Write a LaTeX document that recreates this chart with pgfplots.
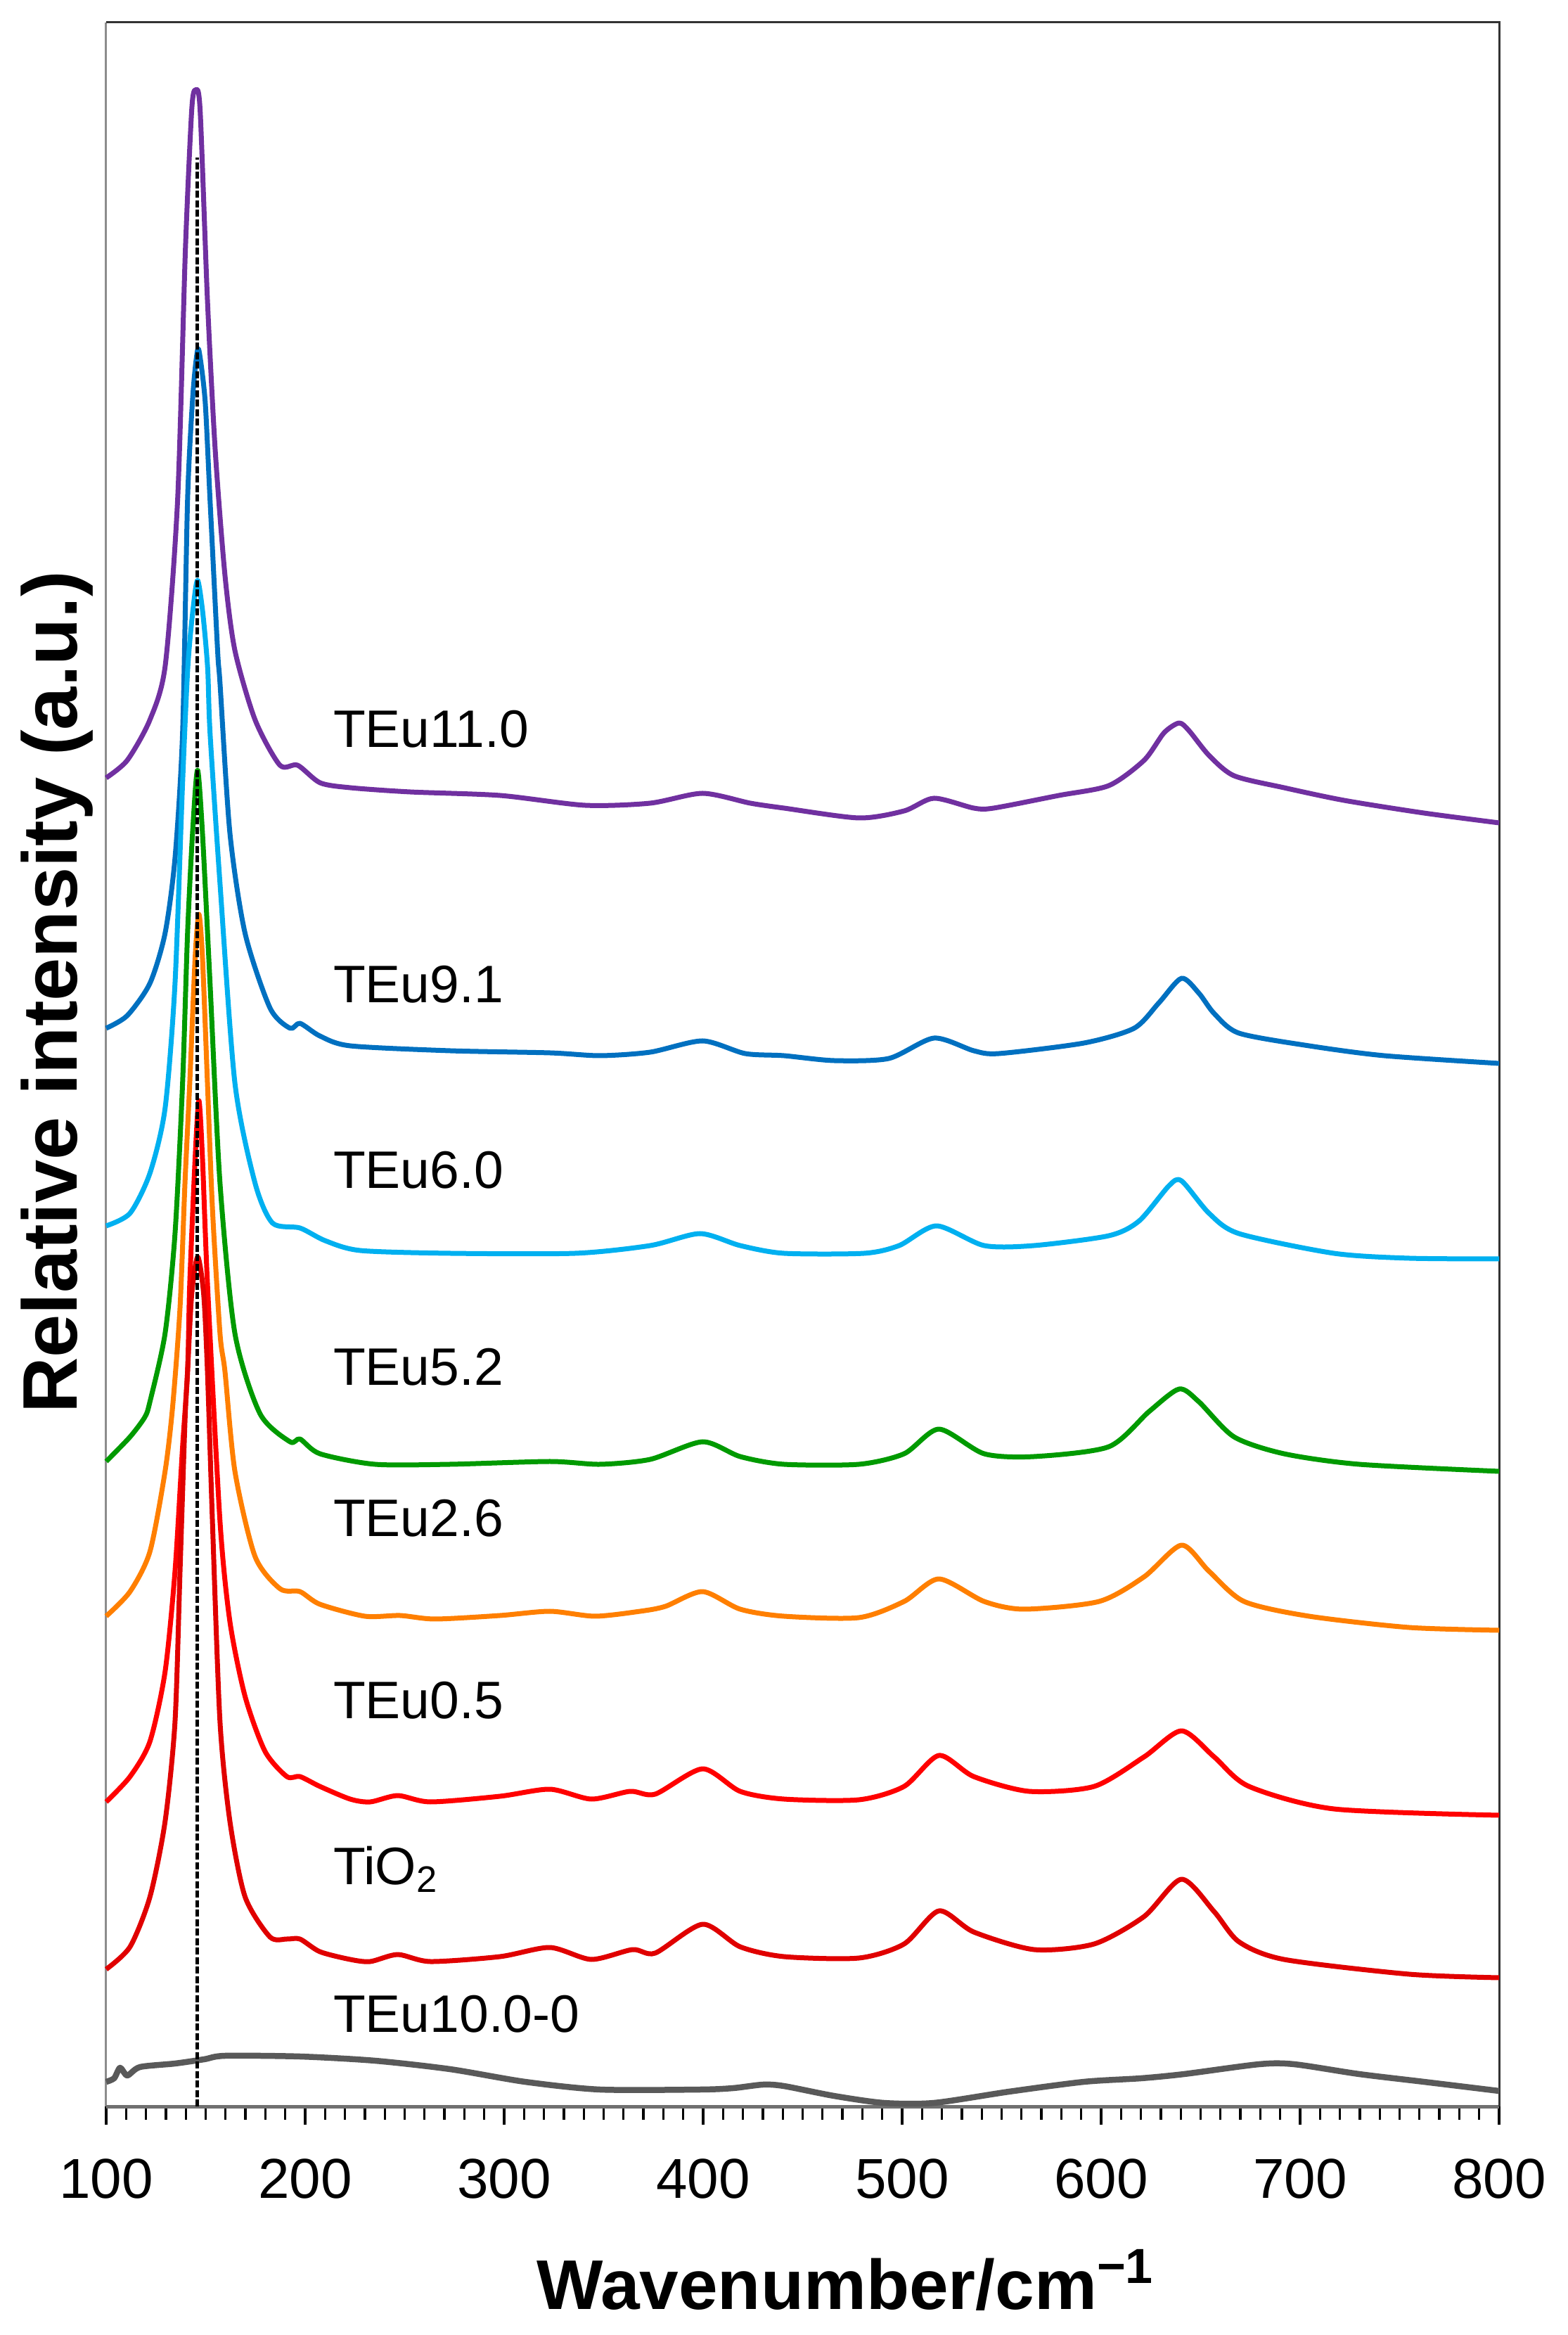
\documentclass[border=0pt]{standalone}
\usepackage{pgfplots}
\pgfplotsset{compat=1.18}
\usepackage{fontspec}
\setmainfont{Liberation Sans}
\definecolor{cPurple}{HTML}{7030A0}
\definecolor{cBlue}{HTML}{0070C0}
\definecolor{cLBlue}{HTML}{00B0F0}
\definecolor{cGreen}{HTML}{009A00}
\definecolor{cOrange}{HTML}{FF7F00}
\definecolor{cRed}{HTML}{FF0000}
\definecolor{cDRed}{HTML}{E00000}
\definecolor{cGray}{HTML}{595959}
\definecolor{cAxis}{HTML}{8C8C8C}
\begin{document}
\begin{tikzpicture}
\begin{axis}[
  scale only axis,
  width=396.2pt, height=592.6pt,
  xmin=100, xmax=800, ymin=0, ymax=2963,
  clip=false,
  axis line style={draw=none},
  ytick=\empty,
  xtick={100,200,...,800},
  minor x tick num=9,
  xtick pos=bottom,
  tick align=outside,
  major tick length=5.2pt,
  minor tick length=3.8pt,
  every tick/.style={black, line width=0.65pt},
  /pgf/number format/assume math mode=true,
  /pgf/number format/set thousands separator={},
  xticklabel style={font=\fontsize{16}{19}\selectfont, anchor=base, yshift=-20.8pt},
  xlabel={\textbf{Wavenumber/cm\textsuperscript{\textminus1}}},
  xlabel style={font=\fontsize{20}{24}\selectfont, at={(axis description cs:0.531,-0.0975)}, anchor=base},
  ylabel={\textbf{Relative intensity (a.u.)}},
  ylabel style={font=\fontsize{22}{26}\selectfont, at={(axis description cs:-0.0207,0.5346)}, anchor=base, rotate=0},
  every axis plot/.append style={line join=round, smooth, tension=0.45},
]
\coordinate (O) at (rel axis cs:0,0);
% frame
\draw[cAxis, line width=0.6pt] (rel axis cs:0,0) -- (rel axis cs:0,1);
\draw[cAxis!80!black, line width=1pt] (rel axis cs:0,0) -- (rel axis cs:1,0);
\draw[black!80, line width=0.6pt] (rel axis cs:0,1) -- (rel axis cs:1,1) -- (rel axis cs:1,0);
% TEu11.0
\addplot[cPurple, line width=1.4pt] coordinates {
(100,1889)(110.6,1914)(121.9,1971)(129.7,2049)(135.9,2284)(139.8,2639)(143,2839)(144.9,2867)(147.2,2839)(150.9,2568)(154.8,2355)(159.7,2177)(164.7,2070)(174.9,1971)(187.3,1907)(196.2,1907)(207.5,1882)(222.6,1875)(252.7,1869)(297.9,1864)(340.6,1850)(373.4,1853)(399.7,1867)(423.7,1853)(440.6,1846)(478.3,1832)(501,1842)(516,1860)(536,1846)(546,1846)(578.8,1864)(603.9,1878)(621.6,1914)(631.6,1953)(639.2,1967)(644.2,1956)(654.2,1921)(666.8,1892)(691.9,1875)(722.1,1857)(762.2,1839)(800,1825)};
% TEu9.1
\addplot[cBlue, line width=1.4pt] coordinates {
(100,1533)(110.6,1551)(122,1597)(129.6,1668)(134.6,1775)(138.4,1953)(140.9,2284)(143.4,2426)(145.2,2483)(146.6,2497)(149.7,2426)(152.2,2284)(156,2070)(157.2,2024)(162.2,1810)(169.8,1668)(182.3,1562)(192.4,1533)(197.4,1540)(207.4,1522)(222.6,1508)(272.8,1501)(323,1498)(348.2,1494)(373.4,1499)(399.7,1515)(421.1,1497)(440.6,1494)(465.7,1487)(493.3,1490)(516,1519)(536,1501)(548.7,1497)(591.4,1512)(616.6,1533)(629,1569)(640.4,1604)(649.1,1583)(656.8,1554)(669.3,1526)(704.5,1508)(742.2,1494)(800,1483)};
% TEu6.0
\addplot[cLBlue, line width=1.4pt] coordinates {
(100,1252)(112,1270)(122,1327)(129.6,1419)(134.6,1597)(138.4,1882)(141,2045)(143.5,2125)(145.9,2170)(148.5,2125)(151,2045)(152.2,1953)(157.2,1739)(164.7,1455)(174.8,1313)(183.6,1256)(197.4,1249)(210,1231)(227.6,1217)(272.8,1213)(335.7,1213)(373.4,1224)(398.4,1241)(418.6,1224)(440.6,1213)(480.9,1213)(498.5,1224)(517.3,1252)(541.2,1224)(566.3,1224)(603.9,1238)(619.1,1259)(634.1,1309)(640.4,1316)(654.2,1270)(669.3,1241)(717,1213)(754.8,1206)(800,1205)};
% TEu5.2
\addplot[cGreen, line width=1.4pt] coordinates {
(100,917)(112,952)(119.4,980)(122,1002)(129.6,1099)(134.6,1241)(138.4,1455)(140.9,1668)(143.4,1810)(145.9,1900)(148.4,1810)(152.2,1597)(157.2,1313)(164.7,1099)(177.3,985)(192.4,945)(197.4,949)(207.4,928)(235.1,913)(272.8,913)(323,917)(348.2,913)(373.4,920)(399.7,945)(418.6,924)(440.6,913)(478.3,913)(501,928)(518.5,963)(541.2,928)(566.3,924)(603.9,938)(624.1,988)(639.2,1020)(649.1,1002)(666.8,952)(691.9,928)(729.7,913)(800,903)};
% TEu2.6
\addplot[cOrange, line width=1.4pt] coordinates {
(100,697)(112,732)(122,789)(129.6,903)(133.4,995)(137.1,1135)(139.6,1313)(142,1455)(144.7,1633)(146.6,1695)(148.4,1633)(150.9,1455)(153.4,1277)(157.2,1099)(159.7,1045)(164.7,903)(174.8,782)(187.4,736)(197.4,732)(207.4,714)(230,697)(247.7,698)(265.3,693)(297.9,698)(323,704)(345.6,697)(368.3,704)(381,711)(399.7,732)(418.6,707)(440.6,697)(478.3,695)(501,718)(518.5,750)(541.2,718)(561.3,707)(599,718)(621.6,753)(640.4,798)(654.2,761)(671.8,718)(704.5,697)(754.8,681)(800,677)};
% TEu0.5
\addplot[cRed, line width=1.4pt] coordinates {
(100,433)(112,469)(122,519)(129.6,618)(134.6,761)(138.4,938)(140.9,1045)(142,1170)(144.7,1348)(146.6,1430)(148.4,1348)(150.9,1170)(157.2,832)(162.2,689)(169.8,583)(179.8,505)(190.8,469)(197.4,469)(207.4,455)(222.6,437)(232.7,433)(246.5,442)(262.9,433)(297.9,441)(323,451)(343.8,437)(363.3,448)(375.9,444)(399.7,480)(418.6,448)(440.6,437)(478.3,436)(501,455)(518.5,499)(536,469)(563.8,448)(596.5,455)(621.6,497)(640.4,534)(656.8,497)(674.3,455)(717,423)(800,414)};
% TiO2
\addplot[cDRed, line width=1.4pt] coordinates {
(100,195)(112,227)(122,298)(129.6,405)(134.6,547)(137.1,760)(139.6,974)(140.9,1045)(143,1155)(146,1208)(149,1155)(150.9,1045)(153.4,832)(157.2,547)(162.2,405)(169.8,298)(182.3,241)(190.8,238)(197.4,238)(207.4,220)(222.6,209)(232.7,206)(246.5,216)(262.9,206)(297.9,213)(323,226)(343.8,209)(364.5,223)(375.9,218)(399.7,259)(418.6,227)(440.6,213)(478.3,211)(501,231)(518.5,278)(536,248)(566.3,223)(596.5,231)(621.6,270)(640.4,323)(656.8,277)(669.3,234)(691.9,209)(754.8,188)(800,183)};
% TEu10.0-0
\addplot[cGray, line width=1.7pt] coordinates {
(100,35)(104,40)(107,55)(110.6,44)(117,56)(134.6,61)(149.2,67)(159.7,72)(197.4,71)(235.1,65)(272.8,53)(310.5,35)(348.2,24)(398.4,24)(415,26)(430,31)(440.6,29)(465.7,15)(490.8,5)(516,5)(553.7,21)(591.4,35)(620,40)(641.7,46)(679.4,60)(697,60)(729.7,46)(762.2,35)(800,22)};
% dashed reference line
\addplot[black, line width=0.9pt, dash pattern=on 2pt off 0.7pt, sharp plot] coordinates {(145.7,0)(145.7,2771)};
% labels
\begin{scope}[every node/.style={anchor=base west, font=\fontsize{15}{18}\selectfont, inner sep=0pt}]
\node at (axis cs:213.8,1932) {TEu11.0};
\node at (axis cs:213.8,1569) {TEu9.1};
\node at (axis cs:213.8,1305) {TEu6.0};
\node at (axis cs:213.8,1025) {TEu5.2};
\node at (axis cs:213.8,810) {TEu2.6};
\node at (axis cs:213.8,551) {TEu0.5};
\node at (axis cs:213.8,316) {TiO\textsubscript{2}};
\node at (axis cs:213.8,106) {TEu10.0-0};
\end{scope}
\end{axis}
\pgfresetboundingbox
\path (O) ++(-30.2pt,-65pt) rectangle ++(446pt,664pt);
\end{tikzpicture}
\end{document}
